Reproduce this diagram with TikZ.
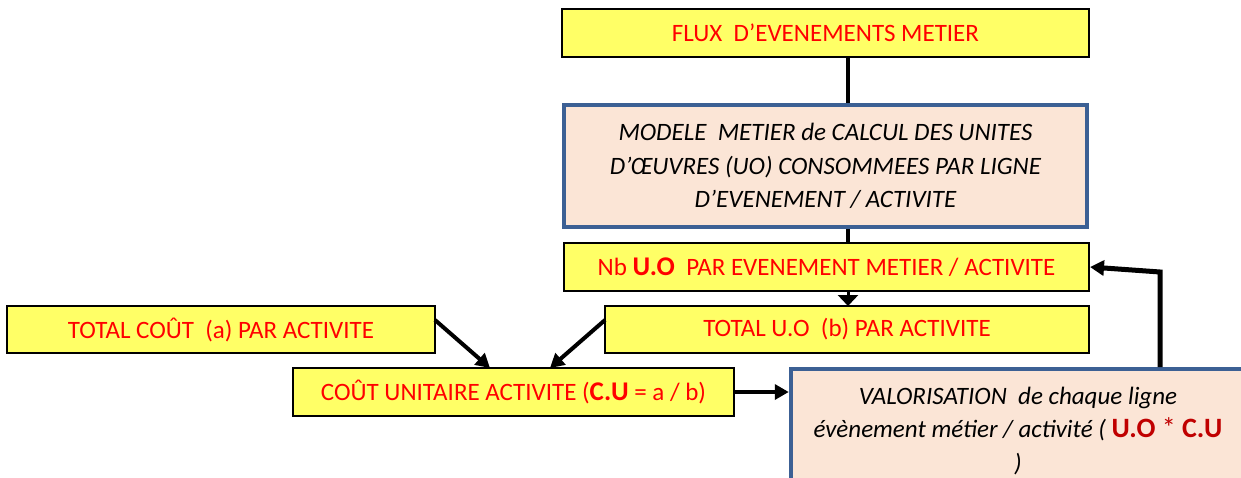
\documentclass[tikz,border=0pt]{standalone}
\usepackage{fontspec}
\setmainfont{Carlito}
\usetikzlibrary{arrows.meta}
\definecolor{boxyellow}{RGB}{255,255,102}
\definecolor{peach}{RGB}{251,229,214}
\definecolor{steelb}{RGB}{60,96,148}
\definecolor{darkred}{RGB}{192,0,0}
\begin{document}
\begin{tikzpicture}[x=1pt,y=-1pt,
  ybox/.style={draw=black, line width=2pt, fill=boxyellow, inner sep=0pt, text=red,
    font=\fontsize{25}{30}\selectfont},
  pbox/.style={draw=steelb, line width=4.5pt, fill=peach, inner sep=0pt, align=center,
    font=\fontsize{25}{33.5}\selectfont\itshape},
  conn/.style={line width=4pt},
  arr/.style={line width=4pt, -{Triangle[length=14pt,width=15pt]}},
]
\useasboundingbox (0,0) rectangle (1241,477);
\clip (0,0) rectangle (1241,477);

\node[ybox, minimum width=527pt, minimum height=48pt] (flux) at (825.5,33) {FLUX~ D’EVENEMENTS METIER};
\node[pbox, minimum width=523pt, minimum height=122pt] (modele) at (825.5,166)
  {MODELE~ METIER de CALCUL DES UNITES\\D’ŒUVRES (UO) CONSOMMEES PAR LIGNE\\D’EVENEMENT / ACTIVITE};
\node[ybox, minimum width=525pt, minimum height=48pt] (nb) at (826.5,267)
  {Nb {\fontsize{27}{30}\selectfont\bfseries U.O}~ PAR EVENEMENT METIER / ACTIVITE};
\node[ybox, minimum width=484pt, minimum height=47pt] (totuo) at (847,329.5)
  {TOTAL U.O~ (b) PAR ACTIVITE};
\node[ybox, minimum width=428pt, minimum height=47pt] (totcout) at (221,329.5)
  {TOTAL COÛT~ (a) PAR ACTIVITE};
\node[ybox, minimum width=441pt, minimum height=48pt] (cu) at (513.5,392)
  {COÛT UNITAIRE ACTIVITE ({\fontsize{27}{30}\selectfont\bfseries C.U} = a / b)};
\node[pbox, minimum width=454pt, minimum height=124pt] (valo) at (1018,431)
  {VALORISATION~ de chaque ligne\\évènement métier / activité ( \textcolor{darkred}{\upshape\fontsize{28}{33.5}\selectfont\textbf{U.O} * \textbf{C.U}}\\)};

\coordinate (fluxb) at (848,57);
\coordinate (modt) at (848,103);
\coordinate (modb) at (848,229);
\coordinate (nbt) at (848,243);
\coordinate (nbb) at (848,291);
\coordinate (tuot) at (848,306);
\coordinate (tcoutE) at (435,320);
\coordinate (cuA) at (490,368);
\coordinate (tuoW) at (605,320);
\coordinate (cuB) at (550,368);
\coordinate (valoT) at (1160,367);
\coordinate (bend) at (1160,272);

\draw[conn] (fluxb) -- (modt);
\draw[conn] (modb) -- (nbt);
\draw[line width=3pt, -{Triangle[length=11pt,width=20pt]}] (nbb) -- (tuot);
\draw[arr] (tcoutE) -- (cuA);
\draw[arr] (tuoW) -- (cuB);
\draw[arr] (cu.east) -- (valo.west |- cu.east);
\draw[arr, line width=5pt] (valoT) -- (bend) -- (nb.east);
\end{tikzpicture}
\end{document}
